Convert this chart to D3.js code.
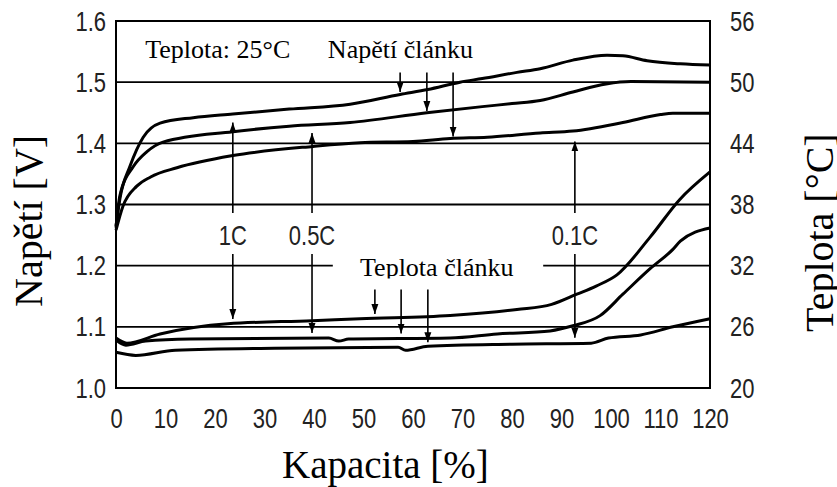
<!DOCTYPE html>
<html>
<head>
<meta charset="utf-8">
<script src="https://cdn.jsdelivr.net/npm/d3@7"></script>
<style>
body { margin: 0; background: #fff; }
.tick text { font-family: "Liberation Sans", Arial, sans-serif; font-size: 22px; fill: #222; }
.serif { font-family: "Liberation Serif", "Times New Roman", serif; fill: #000; }
.rate { font-family: "Liberation Sans", Arial, sans-serif; font-size: 22px; fill: #222; }
</style>
</head>
<body>
<div id="chart"></div>
<script>
// capacity [%] vs cell voltage [V], charging at 1C / 0.5C / 0.1C
const volt1C = [[0,1.265],[0.8,1.31],[2.8,1.362],[5.5,1.41],[8.9,1.433],[15.6,1.442],[23.6,1.448],[35,1.456],[47.3,1.464],[57.4,1.48],[63,1.488],[69.5,1.5],[74,1.506],[81,1.516],[85.7,1.522],[92.3,1.536],[99.2,1.544],[102.4,1.543],[107.3,1.535],[114,1.53],[120,1.528]];
const volt05C = [[0,1.262],[0.8,1.315],[3.5,1.362],[6.2,1.386],[9.5,1.402],[23.6,1.419],[35,1.428],[47.3,1.434],[62.8,1.45],[74,1.46],[80,1.465],[85.7,1.47],[92.3,1.484],[99,1.497],[104,1.501],[120,1.5]];
const volt01C = [[0,1.258],[1.4,1.297],[4.2,1.33],[7,1.345],[12.3,1.36],[23.6,1.38],[39.8,1.395],[49.3,1.401],[60,1.403],[67.5,1.408],[75,1.41],[85.7,1.417],[92.3,1.42],[102.4,1.434],[110,1.447],[112.5,1.449],[120,1.449]];

// capacity [%] vs cell temperature [°C]
const temp1C = [[0,24.9],[2.2,24.4],[8.9,25.3],[22.6,26.3],[39.6,26.6],[49.3,26.8],[67.5,27.1],[81,27.7],[88,28.2],[93.1,29.2],[97,30.0],[101.2,31.1],[107.9,34.8],[113.9,38.5],[120,41.2]];
const temp05C = [[0,24.7],[2,24.2],[6,24.6],[15,24.8],[43,24.9],[45,24.6],[47,24.8],[67.5,24.9],[77,25.3],[87.7,25.6],[92.3,26.1],[97.8,27.1],[102.4,29.2],[107.9,31.7],[112.5,33.6],[114,34.4],[120,35.7]];
const temp01C = [[0,23.5],[4,23.2],[12,23.7],[32,23.9],[57,24.0],[58.5,23.7],[63,24.1],[80,24.3],[96,24.4],[99.5,24.9],[106,25.2],[112.5,26.0],[120,26.8]];

const capTicks = [0,10,20,30,40,50,60,70,80,90,100,110,120];
const voltTicks = [1.0,1.1,1.2,1.3,1.4,1.5,1.6];
const tempTicks = [20,26,32,38,44,50,56];
const gridVolts = [1.1,1.3,1.4,1.5];

// rate labels: [label, capacity, up arrow tip V, down arrow tip V]
const rateArrows = [["1C",23.6,1.434,1.113],["0.5C",39.6,1.417,1.09],["0.1C",92.7,1.403,1.082]];
// "Napětí článku" arrows: [capacity, tip V]
const voltArrows = [[57.4,1.484],[62.8,1.453],[68.1,1.411]];
// "Teplota článku" arrows: [capacity, tip V]
const tempArrows = [[52.3,1.121],[57.6,1.089],[63.0,1.075]];

const margin = {top: 21, right: 127, bottom: 99, left: 116},
    width = 837 - margin.left - margin.right,
    height = 487 - margin.top - margin.bottom;

let svg = d3.select("#chart").append("svg")
    .attr("width", 837)
    .attr("height", 487);

let defs = svg.append("defs");
defs.append("marker")
    .attr("id", "arrow")
    .attr("viewBox", "0 -4 10 8")
    .attr("refX", 10).attr("refY", 0)
    .attr("markerWidth", 10).attr("markerHeight", 8)
    .attr("markerUnits", "userSpaceOnUse")
    .attr("orient", "auto")
    .append("path").attr("d", "M0,-3.5L10,0L0,3.5Z").attr("fill", "#000");

let g = svg.append("g")
    .attr("transform", "translate(" + margin.left + "," + margin.top + ")");

let x = d3.scaleLinear().domain([0, 120]).range([0, width]);
let yV = d3.scaleLinear().domain([1.0, 1.6]).range([height, 0]);
let yT = d3.scaleLinear().domain([20, 56]).range([height, 0]);

// horizontal grid lines
g.selectAll(".grid").data(gridVolts).enter().append("line")
    .attr("x1", 0).attr("x2", width)
    .attr("y1", d => yV(d)).attr("y2", d => yV(d))
    .attr("stroke", "#000").attr("stroke-width", 1.8);

// the 1.2 line is broken by the "Teplota článku" label
g.append("line")
    .attr("x1", 0).attr("x2", width)
    .attr("y1", yV(1.2)).attr("y2", yV(1.2))
    .attr("stroke", "#000").attr("stroke-width", 1.8);

// curves
const vline = d3.line().x(d => x(d[0])).y(d => yV(d[1])).curve(d3.curveMonotoneX);
const tline = d3.line().x(d => x(d[0])).y(d => yT(d[1])).curve(d3.curveMonotoneX);

[volt1C, volt05C, volt01C].forEach(s => {
    g.append("path").datum(s).attr("d", vline)
        .attr("fill", "none").attr("stroke", "#000").attr("stroke-width", 3);
});
[temp1C, temp05C, temp01C].forEach(s => {
    g.append("path").datum(s).attr("d", tline)
        .attr("fill", "none").attr("stroke", "#000").attr("stroke-width", 3);
});

// arrows
function arrow(cap, v1, v2) {
    g.append("line")
        .attr("x1", x(cap)).attr("x2", x(cap))
        .attr("y1", yV(v1)).attr("y2", yV(v2))
        .attr("stroke", "#000").attr("stroke-width", 1.6)
        .attr("marker-end", "url(#arrow)");
}

rateArrows.forEach(d => {
    arrow(d[1], 1.286, d[2]);
    arrow(d[1], 1.219, d[3]);
    g.append("text").attr("class", "rate")
        .attr("x", x(d[1])).attr("y", yV(1.25))
        .attr("text-anchor", "middle").attr("dy", "0.36em")
        .attr("transform", "translate(0," + (-yV(1.25) * 0.28) + ") scale(1,1.28)")
        .text(d[0]);
});
voltArrows.forEach(d => arrow(d[0], 1.516, d[1]));
tempArrows.forEach(d => arrow(d[0], 1.161, d[1]));

// annotation texts
g.append("text").attr("class", "serif")
    .attr("x", x(5.9)).attr("y", yV(1.539))
    .style("font-size", "26px").text("Teplota: 25°C");
g.append("text").attr("class", "serif")
    .attr("x", x(42.8)).attr("y", yV(1.539))
    .style("font-size", "26px").text("Napětí článku");

defs.append("clipPath").attr("id", "tclip")
    .append("rect")
    .attr("x", x(43.8)).attr("y", yV(1.22))
    .attr("width", x(86.3) - x(43.8)).attr("height", yV(1.179) - yV(1.22));
g.append("rect")
    .attr("x", x(43.8)).attr("y", yV(1.22))
    .attr("width", x(86.3) - x(43.8)).attr("height", yV(1.179) - yV(1.22))
    .attr("fill", "#fff");
g.append("text").attr("class", "serif")
    .attr("clip-path", "url(#tclip)")
    .attr("x", x(49.3)).attr("y", yV(1.183))
    .style("font-size", "26px").text("Teplota článku");

// plot frame
g.append("rect")
    .attr("width", width).attr("height", height)
    .attr("fill", "none").attr("stroke", "#000").attr("stroke-width", 2);

// axes
let left = g.append("g")
    .call(d3.axisLeft(yV).tickValues(voltTicks).tickFormat(d3.format(".1f")).tickSize(0).tickPadding(10));
left.select(".domain").remove();
left.selectAll("text").attr("transform", "scale(1,1.28)");

let right = g.append("g")
    .attr("transform", "translate(" + width + ",0)")
    .call(d3.axisRight(yT).tickValues(tempTicks).tickSize(0).tickPadding(20));
right.select(".domain").remove();
right.selectAll("text").attr("transform", "scale(1,1.28)");

let bottom = g.append("g")
    .attr("transform", "translate(0," + height + ")")
    .call(d3.axisBottom(x).tickValues(capTicks).tickSize(0));
bottom.select(".domain").remove();
bottom.selectAll("text").attr("y", 31).attr("dy", 0).attr("transform", "scale(1,1.28)");

// axis titles
svg.append("text").attr("class", "serif")
    .attr("transform", "translate(42,307) rotate(-90)")
    .style("font-size", "40px").text("Napětí [V]");
svg.append("text").attr("class", "serif")
    .attr("transform", "translate(833,332) rotate(-90)")
    .style("font-size", "40px").text("Teplota [°C]");
svg.append("text").attr("class", "serif")
    .attr("x", 282).attr("y", 478)
    .style("font-size", "39px").text("Kapacita [%]");
</script>
</body>
</html>
